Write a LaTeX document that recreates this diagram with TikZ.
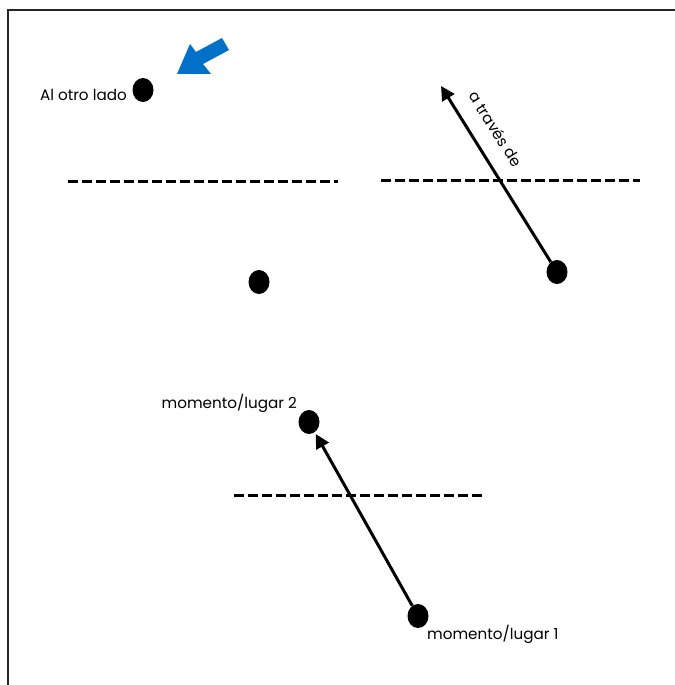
\documentclass[tikz,border=0pt]{standalone}
\usepackage{fontspec}
\setmainfont{Poppins}
\usetikzlibrary{shapes.geometric,arrows.meta}
\definecolor{arrowblue}{RGB}{0,112,200}
\tikzset{
  dot/.style={ellipse,fill=black,inner sep=0pt,minimum width=21bp,minimum height=24bp},
  dashline/.style={line width=3bp,dash pattern=on 10bp off 4bp},
  arr/.style={line width=3bp,-{Triangle[length=14bp,width=14bp]}},
  lbl/.style={font=\fontsize{15.2bp}{17bp}\selectfont,inner sep=0pt},
  frame/.style={line width=1.5bp,draw=black!85}
}
\begin{document}
\begin{tikzpicture}[x=1bp,y=-1bp]
\useasboundingbox (0,0) rectangle (675,685);
% frame
\draw[frame] (8,685) -- (8,10) -- (675,10);
% top-left panel
\node[dot] (otro) at (143,90) {};
\node[lbl,anchor=east] (otrolbl) at (127,95) {Al otro lado};
\fill[arrowblue] (177,74) -- (190,44) -- (196,52) -- (222,38) -- (229,50) -- (203,64) -- (211,74) -- cycle;
\draw[dashline] (68,181) -- (338,181);
\node[dot] (aqui) at (259,282) {};
% top-right panel
\draw[dashline] (381,180) -- (640,180);
\node[dot] (start) at (557,272) {};
\coordinate (tip) at (441,86);
\draw[arr] (start) -- (tip);
\node[lbl,rotate=-58] (traves) at (496,129) {a través de};
% bottom panel
\draw[dashline] (234,495) -- (486,495);
\node[dot] (m2) at (309,422) {};
\node[dot] (m1) at (418,616) {};
\draw[arr,shorten >=2bp] (m1) -- (m2);
\node[lbl,anchor=east] (m2lbl) at (297,403) {momento/lugar 2};
\node[lbl,anchor=west] (m1lbl) at (427,634) {momento/lugar 1};
\end{tikzpicture}
\end{document}
